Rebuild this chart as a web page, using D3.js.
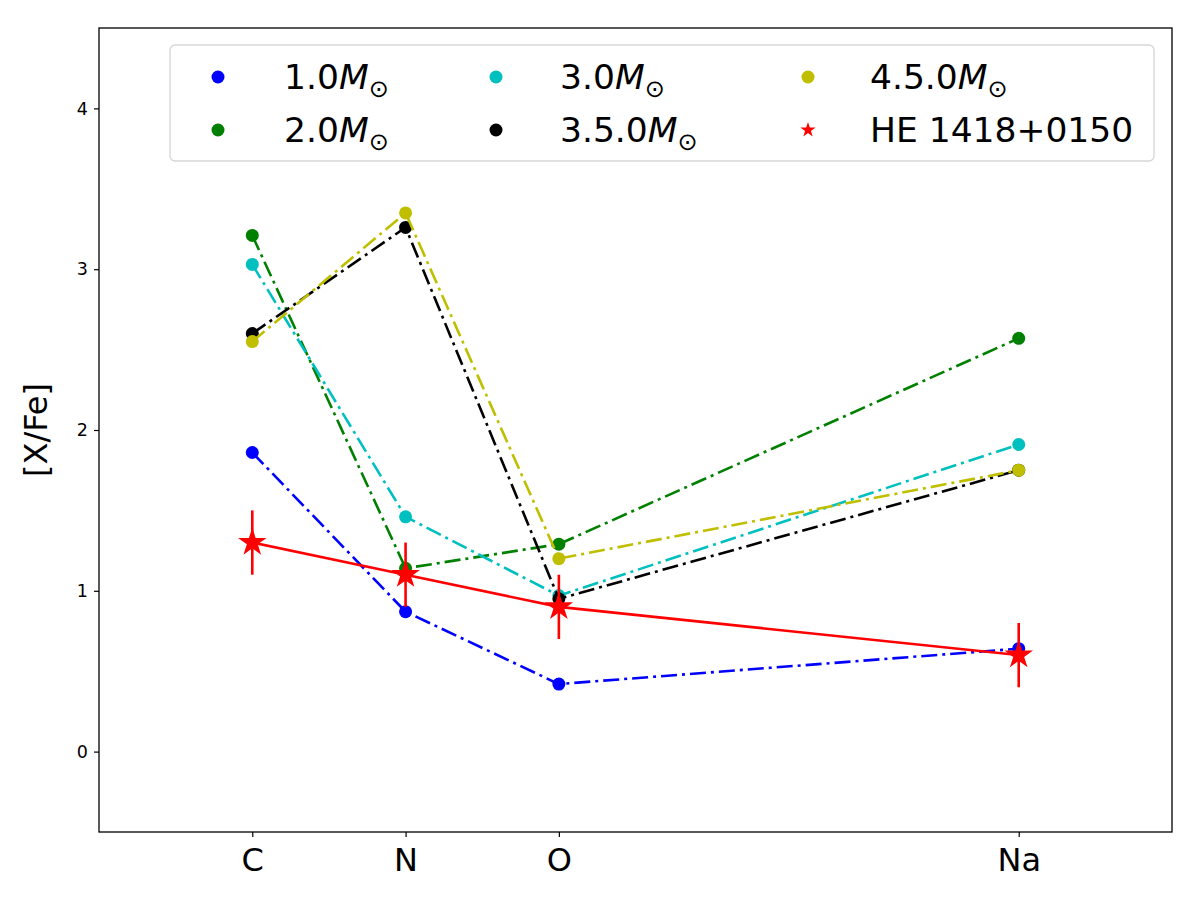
<!DOCTYPE html>
<html>
<head>
<meta charset="utf-8">
<script src="https://cdn.jsdelivr.net/npm/d3@7"></script>
<style>
  body { margin: 0; background: #fff; }
  text { font-family: "DejaVu Sans", sans-serif; }
</style>
</head>
<body>
<div id="chart"></div>
<script>
// element positions (atomic number) and labels
var elements = ["C", "N", "O", "Na"];
var atomicZ = [6, 7, 8, 11];

// model yields [X/Fe] for each initial mass
var massLabels = ["1.0", "2.0", "3.0", "3.5.0", "4.5.0"];
var massColors = ["#0000ff", "#008000", "#00bfbf", "#000000", "#bfbf00"];
var m10 = [1.86, 0.87, 0.42, 0.64];
var m20 = [3.21, 1.14, 1.29, 2.57];
var m30 = [3.03, 1.46, 0.97, 1.91];
var m35 = [2.60, 3.26, 0.95, 1.75];
var m45 = [2.55, 3.35, 1.20, 1.75];
var models = [m10, m20, m30, m35, m45];

// observed star
var starName = "HE 1418+0150";
var starVals = [1.3, 1.1, 0.9, 0.6];
var starErr = [0.2, 0.2, 0.2, 0.2];

var yTicks = [0, 1, 2, 3, 4];

var svgWidth = 1200, svgHeight = 900;
var margin = {top: 28, right: 28, bottom: 68, left: 99};
var width = svgWidth - margin.left - margin.right;
var height = svgHeight - margin.top - margin.bottom;

var svg = d3.select("#chart").append("svg")
  .attr("width", svgWidth)
  .attr("height", svgHeight);

var g = svg.append("g")
  .attr("transform", `translate(${margin.left}, ${margin.top})`);

var x = d3.scaleLinear().domain([5, 12]).range([0, width]);
var y = d3.scaleLinear().domain([-0.5, 4.5]).range([height, 0]);

// axes
var xAxis = d3.axisBottom(x).tickValues(atomicZ)
  .tickFormat((d, i) => elements[i]).tickSize(5).tickPadding(11);
var yAxis = d3.axisLeft(y).tickValues(yTicks)
  .tickFormat(d3.format("d")).tickSize(5).tickPadding(6);

var gx = g.append("g").attr("transform", `translate(0, ${height})`).call(xAxis);
gx.selectAll("text").attr("font-size", "32px").attr("fill", "#000")
  .style("font-family", "DejaVu Sans");
var gy = g.append("g").call(yAxis);
gy.selectAll("text").attr("font-size", "17.5px").attr("fill", "#000")
  .style("font-family", "DejaVu Sans");
g.selectAll(".domain").remove();
g.selectAll(".tick line").attr("stroke", "#000").attr("stroke-width", 1.2);

// frame
g.append("rect").attr("width", width).attr("height", height)
  .attr("fill", "none").attr("stroke", "#000").attr("stroke-width", 1.3);

// y label
g.append("text")
  .attr("transform", `translate(${-52}, ${height / 2}) rotate(-90)`)
  .attr("text-anchor", "middle")
  .attr("font-size", "32px")
  .text("[X/Fe]");

var line = d3.line().x((d, i) => x(atomicZ[i])).y(d => y(d));

// model lines
models.forEach(function(vals, k) {
  g.append("path")
    .datum(vals)
    .attr("d", line)
    .attr("fill", "none")
    .attr("stroke", massColors[k])
    .attr("stroke-width", 2.6)
    .attr("stroke-dasharray", "16,5,3,5");
  g.selectAll(null)
    .data(vals)
    .enter()
    .append("circle")
    .attr("cx", (d, i) => x(atomicZ[i]))
    .attr("cy", d => y(d))
    .attr("r", 6.5)
    .attr("fill", massColors[k]);
});

function starPath(r) {
  var pts = [];
  for (var i = 0; i < 10; i++) {
    var a = -Math.PI / 2 + i * Math.PI / 5;
    var rr = i % 2 === 0 ? r : r * 0.382;
    pts.push([rr * Math.cos(a), rr * Math.sin(a)]);
  }
  return "M" + pts.map(p => p.join(",")).join("L") + "Z";
}

// observed star with error bars
g.append("path").datum(starVals).attr("d", line)
  .attr("fill", "none").attr("stroke", "#ff0000").attr("stroke-width", 2.6);
g.selectAll(null).data(starVals).enter().append("line")
  .attr("x1", (d, i) => x(atomicZ[i]))
  .attr("x2", (d, i) => x(atomicZ[i]))
  .attr("y1", (d, i) => y(d - starErr[i]))
  .attr("y2", (d, i) => y(d + starErr[i]))
  .attr("stroke", "#ff0000").attr("stroke-width", 2.6);
g.selectAll(null).data(starVals).enter().append("path")
  .attr("d", starPath(15))
  .attr("transform", (d, i) => `translate(${x(atomicZ[i])}, ${y(d)})`)
  .attr("fill", "#ff0000");

// legend
var legend = svg.append("g");
legend.append("rect")
  .attr("x", 170).attr("y", 45).attr("width", 984).attr("height", 116)
  .attr("rx", 5).attr("fill", "#fff").attr("fill-opacity", 0.8)
  .attr("stroke", "#d6d6d6").attr("stroke-width", 1.3);

var legendItems = massLabels.map((m, k) => ({label: m, color: massColors[k], star: false}));
legendItems.push({label: starName, color: "#ff0000", star: true});
var colMarkX = [218, 496, 808];
var colTextX = [284, 560, 870];
var rowY = [77, 130];

legendItems.forEach(function(item, k) {
  var col = Math.floor(k / 2), row = k % 2;
  var mx = colMarkX[col], my = rowY[row];
  if (item.star) {
    legend.append("path").attr("d", starPath(8))
      .attr("transform", `translate(${mx}, ${my})`).attr("fill", item.color);
  } else {
    legend.append("circle").attr("cx", mx).attr("cy", my).attr("r", 6.5)
      .attr("fill", item.color);
  }
  var t = legend.append("text").attr("x", colTextX[col]).attr("y", my + 12)
    .attr("font-size", "34.5px").attr("fill", "#000");
  if (item.star) {
    t.text(item.label);
  } else {
    t.append("tspan").text(item.label);
    t.append("tspan").attr("font-style", "italic").text("M");
    t.append("tspan").attr("font-size", "24px").attr("dy", 8).text("\u2299");
  }
});
</script>
</body>
</html>
